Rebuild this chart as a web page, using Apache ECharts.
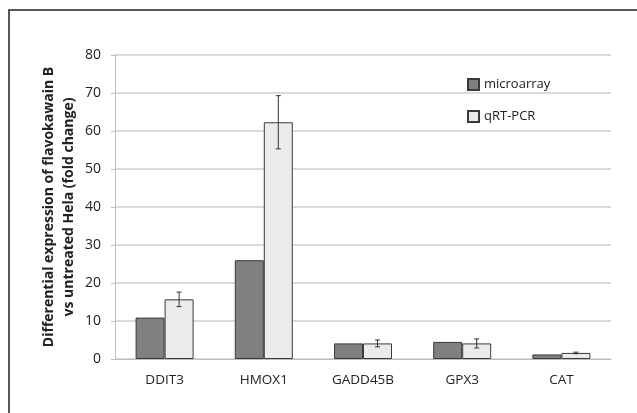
<!DOCTYPE html>
<html>
<head>
<meta charset="utf-8">
<script src="https://cdn.jsdelivr.net/npm/echarts@6/dist/echarts.min.js"></script>
<style>
  html, body { margin: 0; padding: 0; background: #fff; }
  #chart { width: 637px; height: 413px; }
</style>
</head>
<body>
<div id="chart"></div>
<script>
const genes = ['DDIT3', 'HMOX1', 'GADD45B', 'GPX3', 'CAT'];
const microarray = [10.9, 26.0, 4.1, 4.5, 1.2];
const qrtPcr = [15.7, 62.3, 4.1, 4.1, 1.6];
const qrtPcrErr = [1.9, 7.0, 0.9, 1.2, 0.2];
const yTicks = [0, 10, 20, 30, 40, 50, 60, 70, 80];

const chart = echarts.init(document.getElementById('chart'));

const barW = 29;

chart.setOption({
    backgroundColor: '#fff',
    animation: false,
    textStyle: { fontFamily: 'Open Sans, Liberation Sans, sans-serif' },
    graphic: [{
        type: 'rect',
        shape: { x: 9, y: 10, width: 640, height: 420 },
        style: { fill: 'none', stroke: '#222', lineWidth: 1.5 }
    }],
    legend: {
        orient: 'vertical',
        left: 462,
        top: 73,
        icon: 'rect',
        itemWidth: 11,
        itemHeight: 11,
        itemGap: 19,
        textStyle: { fontSize: 13, color: '#222' },
        data: ['microarray', 'qRT-PCR']
    },
    grid: { left: 115, right: 26, top: 55, bottom: 54 },
    xAxis: {
        type: 'category',
        data: genes,
        axisLine: { lineStyle: { color: '#bdbdbd' } },
        axisTick: { length: 4, lineStyle: { color: '#bdbdbd' } },
        axisLabel: { fontSize: 13.5, color: '#222', margin: 14 }
    },
    yAxis: {
        type: 'value',
        min: yTicks[0],
        max: yTicks[yTicks.length - 1],
        interval: 10,
        name: 'Differential expression of flavokawain B\nvs untreated Hela (fold change)',
        nameLocation: 'middle',
        nameGap: 36,
        nameMoveOverlap: false,
        nameTextStyle: { fontSize: 14, fontWeight: 'bold', color: '#222', lineHeight: 20 },
        axisLine: { show: true, lineStyle: { color: '#bdbdbd' } },
        axisTick: { show: true, length: 4, lineStyle: { color: '#bdbdbd' } },
        axisLabel: { fontSize: 14, color: '#222', margin: 14 },
        splitLine: { lineStyle: { color: '#cfcfcf', width: 1.5 } }
    },
    series: [{
        name: 'microarray',
        type: 'bar',
        data: microarray,
        barWidth: barW,
        barGap: '0%',
        itemStyle: { color: '#808080', borderColor: '#3a3a3a', borderWidth: 1 }
    }, {
        name: 'qRT-PCR',
        type: 'bar',
        data: qrtPcr,
        barWidth: barW,
        barGap: '0%',
        itemStyle: { color: '#ebebeb', borderColor: '#3a3a3a', borderWidth: 1 }
    }, {
        type: 'custom',
        name: 'err',
        data: qrtPcr.map((v, i) => [i, v - qrtPcrErr[i], v + qrtPcrErr[i]]),
        z: 10,
        renderItem: function (params, api) {
            const lo = api.coord([api.value(0), api.value(1)]);
            const hi = api.coord([api.value(0), api.value(2)]);
            const x = lo[0] + barW / 2;
            const cap = 2.5;
            const st = { stroke: '#333', lineWidth: 1 };
            return {
                type: 'group',
                children: [
                    { type: 'line', shape: { x1: x, y1: lo[1], x2: x, y2: hi[1] }, style: st },
                    { type: 'line', shape: { x1: x - cap, y1: lo[1], x2: x + cap, y2: lo[1] }, style: st },
                    { type: 'line', shape: { x1: x - cap, y1: hi[1], x2: x + cap, y2: hi[1] }, style: st }
                ]
            };
        }
    }]
});
</script>
</body>
</html>
